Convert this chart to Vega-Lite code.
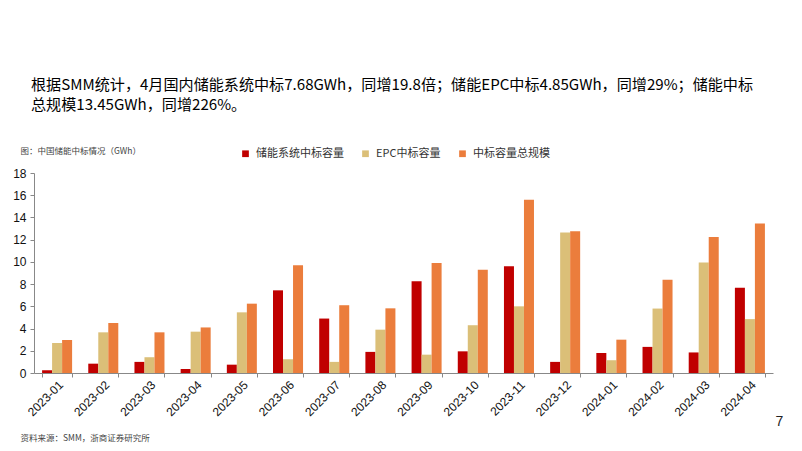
{
  "$schema": "https://vega.github.io/schema/vega-lite/v6.json",
  "width": 739,
  "height": 200,
  "autosize": {"type": "none"},
  "padding": {"left": 34, "top": 173, "right": 29, "bottom": 78},
  "background": "white",
  "config": {"view": {"stroke": null}},
  "title": {
    "text": ["根据SMM统计，4月国内储能系统中标7.68GWh，同增19.8倍；储能EPC中标4.85GWh，同增29%；储能中标", "总规模13.45GWh，同增226%。"],
    "anchor": "start",
    "frame": "group",
    "font": "Noto Sans CJK SC",
    "fontSize": 15.1,
    "fontWeight": "normal",
    "color": "#000000",
    "lineHeight": 19.5,
    "offset": 33,
    "dx": -3
  },
  "data": {
    "values": [
      {"month": "2023-01", "series": "储能系统中标容量", "value": 0.24},
      {"month": "2023-01", "series": "EPC中标容量", "value": 2.7},
      {"month": "2023-01", "series": "中标容量总规模", "value": 2.97},
      {"month": "2023-02", "series": "储能系统中标容量", "value": 0.84},
      {"month": "2023-02", "series": "EPC中标容量", "value": 3.66},
      {"month": "2023-02", "series": "中标容量总规模", "value": 4.5},
      {"month": "2023-03", "series": "储能系统中标容量", "value": 1.0},
      {"month": "2023-03", "series": "EPC中标容量", "value": 1.42},
      {"month": "2023-03", "series": "中标容量总规模", "value": 3.66},
      {"month": "2023-04", "series": "储能系统中标容量", "value": 0.36},
      {"month": "2023-04", "series": "EPC中标容量", "value": 3.72},
      {"month": "2023-04", "series": "中标容量总规模", "value": 4.1},
      {"month": "2023-05", "series": "储能系统中标容量", "value": 0.75},
      {"month": "2023-05", "series": "EPC中标容量", "value": 5.46},
      {"month": "2023-05", "series": "中标容量总规模", "value": 6.24},
      {"month": "2023-06", "series": "储能系统中标容量", "value": 7.44},
      {"month": "2023-06", "series": "EPC中标容量", "value": 1.23},
      {"month": "2023-06", "series": "中标容量总规模", "value": 9.7},
      {"month": "2023-07", "series": "储能系统中标容量", "value": 4.9},
      {"month": "2023-07", "series": "EPC中标容量", "value": 1.0},
      {"month": "2023-07", "series": "中标容量总规模", "value": 6.1},
      {"month": "2023-08", "series": "储能系统中标容量", "value": 1.9},
      {"month": "2023-08", "series": "EPC中标容量", "value": 3.9},
      {"month": "2023-08", "series": "中标容量总规模", "value": 5.82},
      {"month": "2023-09", "series": "储能系统中标容量", "value": 8.25},
      {"month": "2023-09", "series": "EPC中标容量", "value": 1.65},
      {"month": "2023-09", "series": "中标容量总规模", "value": 9.9},
      {"month": "2023-10", "series": "储能系统中标容量", "value": 1.95},
      {"month": "2023-10", "series": "EPC中标容量", "value": 4.3},
      {"month": "2023-10", "series": "中标容量总规模", "value": 9.3},
      {"month": "2023-11", "series": "储能系统中标容量", "value": 9.6},
      {"month": "2023-11", "series": "EPC中标容量", "value": 6.0},
      {"month": "2023-11", "series": "中标容量总规模", "value": 15.6},
      {"month": "2023-12", "series": "储能系统中标容量", "value": 1.0},
      {"month": "2023-12", "series": "EPC中标容量", "value": 12.65},
      {"month": "2023-12", "series": "中标容量总规模", "value": 12.75},
      {"month": "2024-01", "series": "储能系统中标容量", "value": 1.8},
      {"month": "2024-01", "series": "EPC中标容量", "value": 1.15},
      {"month": "2024-01", "series": "中标容量总规模", "value": 3.0},
      {"month": "2024-02", "series": "储能系统中标容量", "value": 2.35},
      {"month": "2024-02", "series": "EPC中标容量", "value": 5.8},
      {"month": "2024-02", "series": "中标容量总规模", "value": 8.4},
      {"month": "2024-03", "series": "储能系统中标容量", "value": 1.85},
      {"month": "2024-03", "series": "EPC中标容量", "value": 9.95},
      {"month": "2024-03", "series": "中标容量总规模", "value": 12.25},
      {"month": "2024-04", "series": "储能系统中标容量", "value": 7.68},
      {"month": "2024-04", "series": "EPC中标容量", "value": 4.85},
      {"month": "2024-04", "series": "中标容量总规模", "value": 13.45}
    ]
  },
  "layer": [
    {
      "mark": {"type": "bar"},
      "encoding": {
        "x": {
          "field": "month",
          "type": "nominal",
          "scale": {"paddingInner": 0.35, "paddingOuter": 0.175},
          "axis": {
            "title": "资料来源：SMM，浙商证券研究所",
            "titleFont": "Noto Sans CJK SC",
            "titleFontSize": 8.5,
            "titleFontWeight": "normal",
            "titleColor": "#444444",
            "titleAlign": "left",
            "titleBaseline": "middle",
            "titleAnchor": null,
            "titleX": -14,
            "titleY": 64,
            "labelAngle": -45,
            "labelFont": "Liberation Sans",
            "labelFontSize": 12,
            "labelColor": "#111111",
            "labelPadding": 2,
            "tickBand": "extent",
            "tickSize": 4,
            "tickColor": "#888888",
            "domainColor": "#888888",
            "grid": false
          }
        },
        "xOffset": {
          "field": "series",
          "type": "nominal",
          "sort": ["储能系统中标容量", "EPC中标容量", "中标容量总规模"],
          "scale": {"paddingInner": 0, "paddingOuter": 0}
        },
        "y": {
          "field": "value",
          "type": "quantitative",
          "scale": {"domain": [0, 18], "nice": false},
          "axis": {
            "values": [0, 2, 4, 6, 8, 10, 12, 14, 16, 18],
            "title": "图：中国储能中标情况（GWh）",
            "titleFont": "Noto Sans CJK SC",
            "titleFontSize": 8.5,
            "titleFontWeight": "normal",
            "titleColor": "#444444",
            "titleAngle": 0,
            "titleAlign": "left",
            "titleBaseline": "middle",
            "titleAnchor": null,
            "titleX": -14,
            "titleY": -23,
            "labelFont": "Liberation Sans",
            "labelFontSize": 12,
            "labelColor": "#111111",
            "labelPadding": 4,
            "tickSize": 4,
            "tickColor": "#888888",
            "domainColor": "#888888",
            "grid": false
          }
        },
        "color": {
          "field": "series",
          "type": "nominal",
          "sort": ["储能系统中标容量", "EPC中标容量", "中标容量总规模"],
          "scale": {
            "domain": ["储能系统中标容量", "EPC中标容量", "中标容量总规模"],
            "range": ["#C00000", "#DBBF78", "#EB7D3C"]
          },
          "legend": {
            "title": null,
            "orient": "none",
            "direction": "horizontal",
            "legendX": 206,
            "legendY": -25,
            "padding": 0,
            "symbolType": "square",
            "symbolSize": 45,
            "symbolStrokeWidth": 0,
            "labelFont": "Noto Sans CJK SC",
            "labelFontSize": 11,
            "labelColor": "#333333",
            "labelOffset": 5,
            "columnPadding": 16
          }
        }
      }
    },
    {
      "mark": {"type": "point", "opacity": 0},
      "encoding": {
        "y": {
          "field": "value",
          "type": "quantitative",
          "scale": {"domain": [0, 18], "nice": false},
          "axis": {
            "orient": "right",
            "labels": false,
            "ticks": false,
            "domain": false,
            "grid": false,
            "title": "7",
            "titleFont": "Liberation Sans",
            "titleFontSize": 14,
            "titleFontWeight": "normal",
            "titleColor": "#222222",
            "titleAngle": 0,
            "titleAlign": "left",
            "titleBaseline": "middle",
            "titleAnchor": null,
            "titleX": 2,
            "titleY": 248
          }
        }
      }
    }
  ],
  "resolve": {"axis": {"y": "independent"}}
}
